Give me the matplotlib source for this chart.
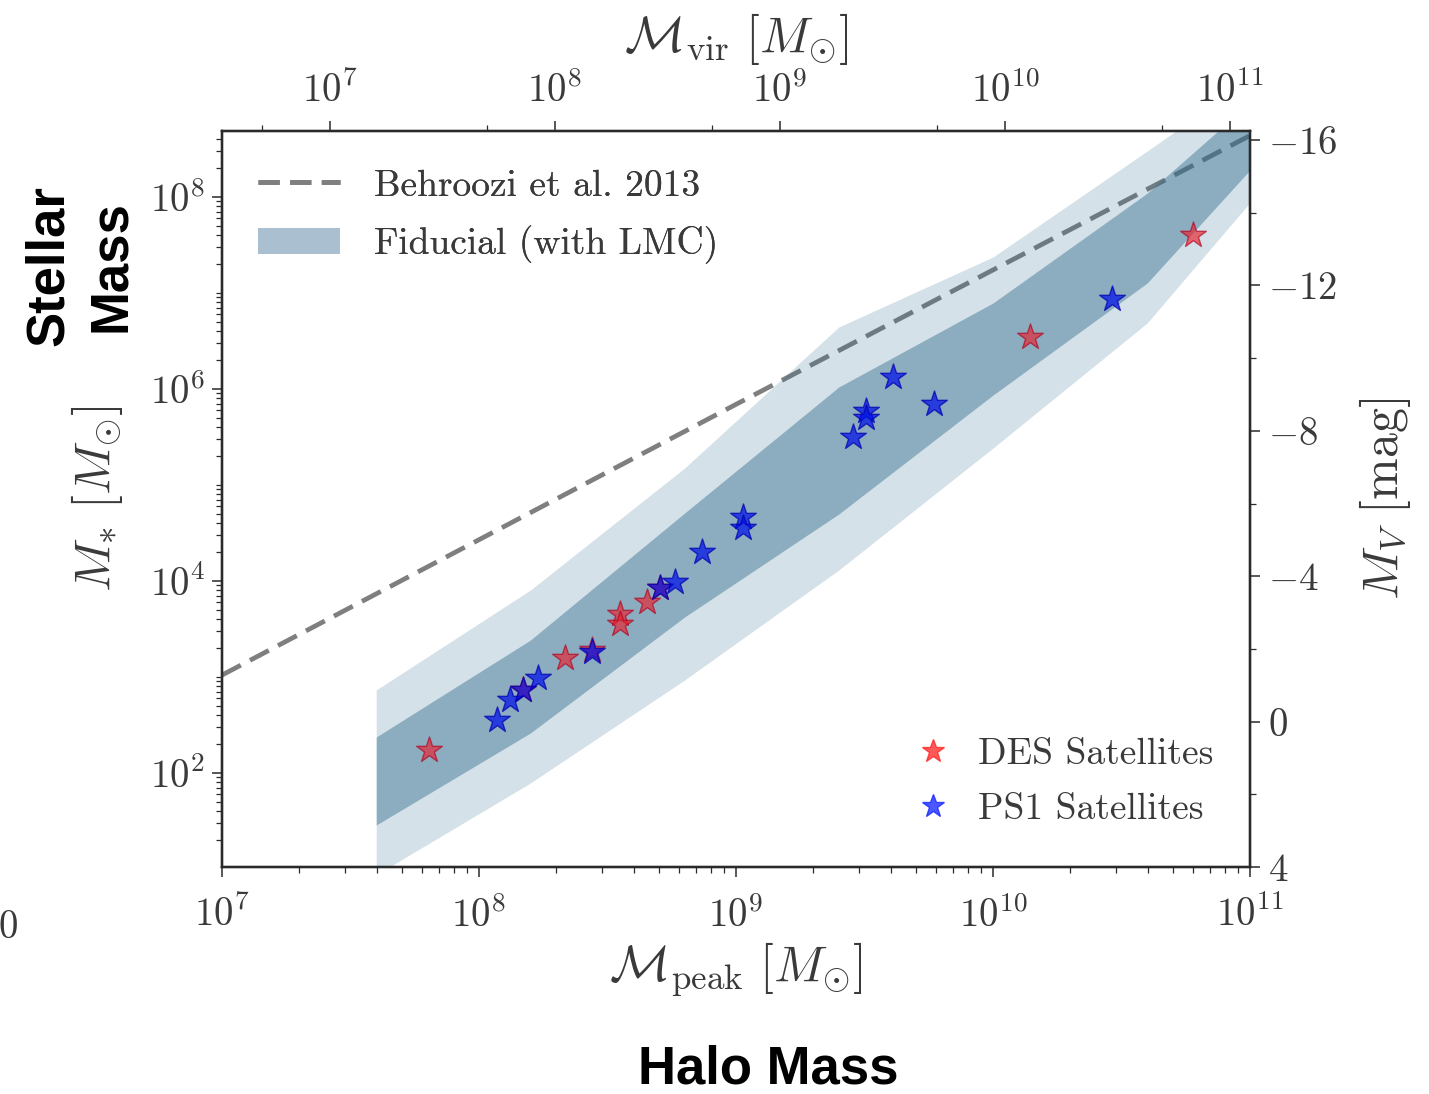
import numpy as np
import matplotlib
matplotlib.use("Agg")
import matplotlib.pyplot as plt
from matplotlib.ticker import LogLocator, MultipleLocator, FixedLocator, NullFormatter
from matplotlib.lines import Line2D
from matplotlib.patches import Patch

plt.rcParams['font.family'] = 'serif'
plt.rcParams['font.serif'] = ['cmr10', 'DejaVu Serif']
plt.rcParams['mathtext.fontset'] = 'cm'
plt.rcParams['axes.formatter.use_mathtext'] = True
plt.rcParams['axes.unicode_minus'] = True

TXT = '#3a3a3a'

# ---- data (log10 values) ----
band_logmpeak = [7.6, 8.2, 8.8, 9.4, 10.0, 10.6, 11.2]
outer_hi = [2.865, 3.906, 5.177, 6.646, 7.375, 8.479, 9.60]
inner_hi = [2.375, 3.385, 4.708, 6.021, 6.896, 8.040, 9.45]
inner_lo = [1.458, 2.417, 3.625, 4.698, 5.937, 7.104, 8.87]
outer_lo = [0.940, 1.896, 2.969, 4.115, 5.385, 6.688, 8.57]

behroozi_logmpeak = [7.0, 8.0, 9.0, 10.0, 11.0]
behroozi_logmstar = [3.02, 4.43, 5.84, 7.24, 8.64]

des_logmpeak = [7.805, 8.335, 8.440, 8.549, 8.549, 8.654, 8.704, 8.171, 10.144, 10.778]
des_logmstar = [2.240, 3.198, 3.281, 3.656, 3.552, 3.781, 3.927, 2.865, 6.542, 7.604]

ps1_logmpeak = [8.070, 8.121, 8.171, 8.230, 8.440, 8.704, 8.763, 8.868, 9.027, 9.027,
                9.455, 9.506, 9.506, 9.611, 9.770, 10.463]
ps1_logmstar = [2.552, 2.760, 2.865, 2.990, 3.260, 3.927, 3.990, 4.302, 4.667, 4.552,
                5.500, 5.771, 5.698, 6.125, 5.844, 6.938]

bottom_ticks = [1e7, 1e8, 1e9, 1e10, 1e11]
left_ticks = [1e2, 1e4, 1e6, 1e8]
top_ticks = [1e7, 1e8, 1e9, 1e10, 1e11]
right_ticks = [-16, -12, -8, -4, 0, 4]

# ---- figure ----
W, H = 1429, 1094
fig = plt.figure(figsize=(W / 100, H / 100), dpi=100)
L, R, B, T = 222, 1250, 867, 131
ax = fig.add_axes([L / W, 1 - B / H, (R - L) / W, (B - T) / H])

band_x = 10 ** np.array(band_logmpeak)
band_color = '#2d698c'
dash = (0, (4.5, 2.2))

ax.plot(10 ** np.array(behroozi_logmpeak), 10 ** np.array(behroozi_logmstar),
        color='#7f7f7f', lw=3.4, ls=dash, zorder=1)
ax.fill_between(band_x, 10 ** np.array(outer_lo), 10 ** np.array(outer_hi),
                color=band_color, alpha=0.2, lw=0, zorder=2)
ax.fill_between(band_x, 10 ** np.array(inner_lo), 10 ** np.array(inner_hi),
                color=band_color, alpha=0.43, lw=0, zorder=3)

ax.scatter(10 ** np.array(des_logmpeak), 10 ** np.array(des_logmstar), marker='*',
           s=380, color='#e8202a', alpha=0.65, edgecolors='#b00020', linewidths=1.0, zorder=4)
ax.scatter(10 ** np.array(ps1_logmpeak), 10 ** np.array(ps1_logmstar), marker='*',
           s=380, color='#0010e8', alpha=0.72, edgecolors='#0000b0', linewidths=1.0, zorder=5)

ax.set_xscale('log')
ax.set_yscale('log')
ax.set_xlim(1e7, 1e11)
ax.set_ylim(10 ** 1.021, 10 ** 8.6875)
ax.xaxis.set_major_locator(FixedLocator(bottom_ticks))
ax.xaxis.set_minor_locator(LogLocator(base=10, subs=np.arange(2, 10), numticks=20))
ax.xaxis.set_minor_formatter(NullFormatter())
ax.yaxis.set_major_locator(FixedLocator(left_ticks))
ax.yaxis.set_minor_locator(LogLocator(base=10, subs=np.arange(1, 10), numticks=20))
ax.yaxis.set_minor_formatter(NullFormatter())

# top axis
axt = ax.twiny()
axt.set_xscale('log')
axt.set_xlim(10 ** 6.52, 10 ** 11.089)
axt.xaxis.set_major_locator(FixedLocator(top_ticks))
axt.xaxis.set_minor_locator(LogLocator(base=10, subs=[5.0], numticks=20))
axt.xaxis.set_minor_formatter(NullFormatter())

# right axis
axr = ax.twinx()
axr.set_ylim(4, -16.25)
axr.yaxis.set_major_locator(FixedLocator(right_ticks))
axr.yaxis.set_minor_locator(MultipleLocator(2))

for a in (ax, axt, axr):
    for sp in a.spines.values():
        sp.set_color('#2a2a2a')
        sp.set_linewidth(1.6)
    a.tick_params(which='major', length=7, width=1.1, color='#2a2a2a', labelcolor=TXT,
                  labelsize=28, direction='out')
    a.tick_params(which='minor', length=4, width=0.9, color='#2a2a2a', direction='out')

ax.tick_params(axis='x', which='major', pad=14)
ax.tick_params(axis='y', which='major', pad=5)
axt.tick_params(axis='x', which='major', pad=8)
axr.tick_params(axis='y', which='major', pad=6)

ax.set_xlabel(r'$\mathcal{M}_{\rm peak}\ [M_{\odot}]$', fontsize=36, color=TXT)
ax.xaxis.set_label_coords(0.5, -0.10)
ax.set_ylabel(r'$M_{*}\ [M_{\odot}]$', fontsize=36, color=TXT)
ax.yaxis.set_label_coords(-0.094, 0.5)
axt.set_xlabel(r'$\mathcal{M}_{\rm vir}\ [M_{\odot}]$', fontsize=36, color=TXT)
axt.xaxis.set_label_coords(0.5, 1.107)
axr.set_ylabel(r'$M_{V}\ [{\rm mag}]$', fontsize=36, color=TXT)
axr.yaxis.set_label_coords(1.104, 0.5)

# legends
h1 = [Line2D([0], [0], color='#7f7f7f', lw=3.4, ls=dash),
      Patch(facecolor='#aabfd0', edgecolor='none')]
leg1 = ax.legend(h1, ['Behroozi et al. 2013', 'Fiducial (with LMC)'], loc='upper left',
                 bbox_to_anchor=(0.035, 0.948), frameon=False, fontsize=27, borderpad=0,
                 borderaxespad=0, handlelength=2.2, handletextpad=0.9, labelspacing=0.6,
                 labelcolor=TXT)
ax.add_artist(leg1)
h2 = [Line2D([0], [0], marker='*', ls='none', color='#ff2020', alpha=0.75, ms=17),
      Line2D([0], [0], marker='*', ls='none', color='#1020ff', alpha=0.75, ms=17)]
leg2 = axr.legend(h2, ['DES Satellites', 'PS1 Satellites'], loc='upper left',
                  bbox_to_anchor=(0.670, 0.176), frameon=False, fontsize=27, borderpad=0,
                  borderaxespad=0, handlelength=1.2, handletextpad=0.6, labelspacing=0.6,
                  labelcolor=TXT)

# annotations
fig.text(80 / W, 1 - 266 / H, 'Stellar\nMass', rotation=90, ha='center', va='center',
         fontsize=38, fontweight='bold', family='Liberation Sans', color='black',
         linespacing=1.3)
fig.text(768 / W, 1 - 1083 / H, 'Halo Mass', ha='center', va='baseline',
         fontsize=38, fontweight='bold', family='Liberation Sans', color='black')
fig.text(8 / W, 1 - 928 / H, '0', ha='center', va='center', fontsize=28, color=TXT)

fig.savefig('out.png', dpi=100)
